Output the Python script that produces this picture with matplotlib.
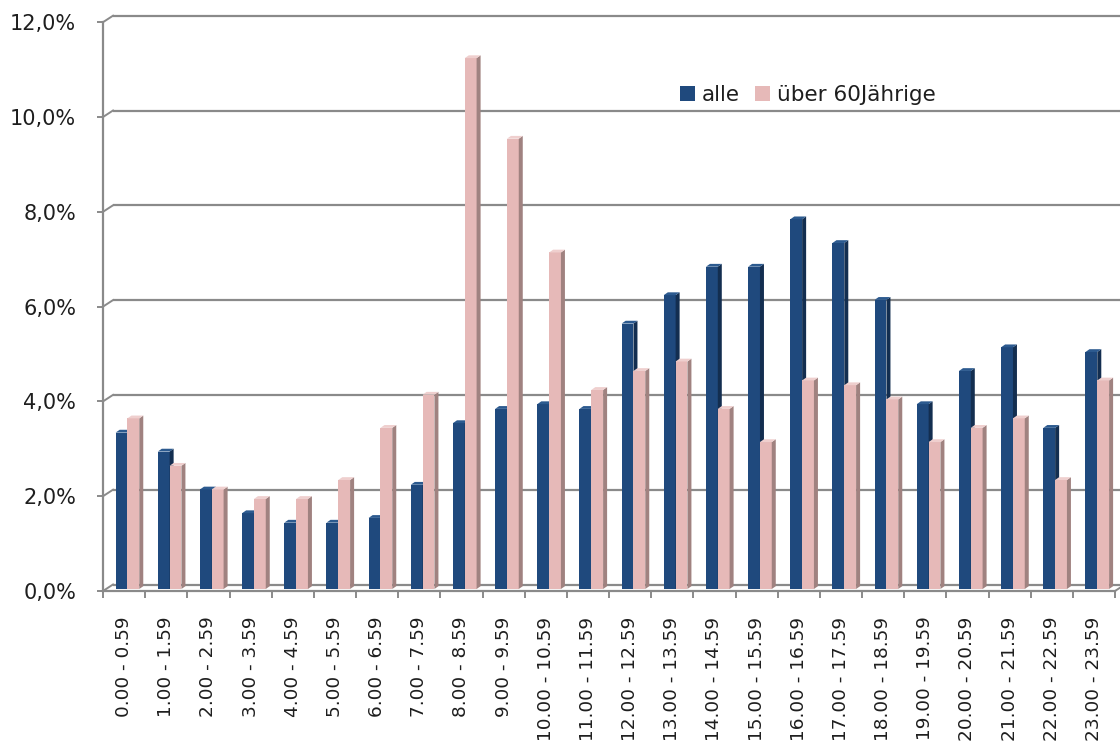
import numpy as np
import matplotlib
matplotlib.use("Agg")
import matplotlib.pyplot as plt
from matplotlib.patches import Polygon, Patch
from matplotlib.ticker import FuncFormatter

# Anteil der Fahrten je Stunde (in %)
zeit = ["0.00 - 0.59", "1.00 - 1.59", "2.00 - 2.59", "3.00 - 3.59",
        "4.00 - 4.59", "5.00 - 5.59", "6.00 - 6.59", "7.00 - 7.59",
        "8.00 - 8.59", "9.00 - 9.59", "10.00 - 10.59", "11.00 - 11.59",
        "12.00 - 12.59", "13.00 - 13.59", "14.00 - 14.59", "15.00 - 15.59",
        "16.00 - 16.59", "17.00 - 17.59", "18.00 - 18.59", "19.00 - 19.59",
        "20.00 - 20.59", "21.00 - 21.59", "22.00 - 22.59", "23.00 - 23.59"]
alle = [3.3, 2.9, 2.1, 1.6, 1.4, 1.4, 1.5, 2.2, 3.5, 3.8, 3.9, 3.8,
        5.6, 6.2, 6.8, 6.8, 7.8, 7.3, 6.1, 3.9, 4.6, 5.1, 3.4, 5.0]
ueber60 = [3.6, 2.6, 2.1, 1.9, 1.9, 2.3, 3.4, 4.1, 11.2, 9.5, 7.1, 4.2,
           4.6, 4.8, 3.8, 3.1, 4.4, 4.3, 4.0, 3.1, 3.4, 3.6, 2.3, 4.4]
y_ticks = [0, 2, 4, 6, 8, 10, 12]

GRID = "#8a8a8a"
TEXT = "#1e1e1e"

W, H = 1120, 745
fig = plt.figure(figsize=(W / 100, H / 100), dpi=100)

# plot area in pixels (front plane)
left_px, right_px = 103, 1115
bottom_px, top_px = 591, 22.2
ax = fig.add_axes([left_px / W, 1 - bottom_px / H,
                   (right_px - left_px) / W, (bottom_px - top_px) / H])
n = len(zeit)
ax.set_xlim(0, n)
ax.set_ylim(0, 12)

# one pixel in data units
px_x = n / (right_px - left_px)
px_y = 12 / (bottom_px - top_px)

# back wall offset for the pseudo-3d look
wall_dx, wall_dy = 10 * px_x, 6.5 * px_y

for g in y_ticks:
    ax.plot([wall_dx, n + wall_dx + 1], [g + wall_dy] * 2, color=GRID,
            lw=1.6, clip_on=False, zorder=1, solid_capstyle="butt")
    ax.plot([0, wall_dx], [g, g + wall_dy], color=GRID, lw=1.4,
            clip_on=False, zorder=1)
ax.plot([n, n + wall_dx], [0, wall_dy], color=GRID, lw=1.4,
        clip_on=False, zorder=1)

# bars with side and top faces
lift = 2 * px_y
side_dx, side_dy = 4 * px_x, 2.8 * px_y
bar_w = 0.28
series = [
    (alle, 0.30, "#1f497d", "#132e50", "#2c5a8f", "alle"),
    (ueber60, 0.58, "#e6b9b8", "#a08280", "#efcfce", "über 60Jährige"),
]
handles = []
for vals, off, front, side, top, name in series:
    xs = np.arange(n) + off
    ax.bar(xs, vals, width=bar_w, bottom=lift, align="edge",
           color=front, zorder=3, linewidth=0)
    for x, v in zip(xs, vals):
        x1 = x + bar_w
        yt = lift + v
        ax.add_patch(Polygon([(x1, lift), (x1 + side_dx, lift + side_dy),
                              (x1 + side_dx, yt + side_dy), (x1, yt)],
                             closed=True, facecolor=side, lw=0, zorder=3))
        ax.add_patch(Polygon([(x, yt), (x + side_dx, yt + side_dy),
                              (x1 + side_dx, yt + side_dy), (x1, yt)],
                             closed=True, facecolor=top, lw=0, zorder=3))
    handles.append(Patch(facecolor=front, label=name))

# axes
for s in ["top", "right"]:
    ax.spines[s].set_visible(False)
for s in ["left", "bottom"]:
    ax.spines[s].set_color(GRID)
    ax.spines[s].set_linewidth(1.6)

ax.set_yticks(y_ticks)
ax.yaxis.set_major_formatter(FuncFormatter(
    lambda v, p: f"{v:.1f}".replace(".", ",") + "%"))
ax.tick_params(axis="y", length=4.3, width=1.4, color=GRID, pad=15,
               labelsize=15, labelcolor=TEXT)

ax.set_xticks(range(n + 1))
ax.tick_params(axis="x", which="major", length=5, width=1.4, color=GRID,
               labelbottom=False)
ax.set_xticks(np.arange(n) + 0.5, minor=True)
ax.set_xticklabels(zeit, minor=True, rotation=90, va="top", ha="center")
ax.tick_params(axis="x", which="minor", length=0, pad=18.5,
               labelsize=13.3, labelcolor=TEXT)

leg = ax.legend(handles=handles, loc="center left", ncol=2, frameon=False,
                bbox_to_anchor=(680 / W, 1 - 95 / H),
                bbox_transform=fig.transFigure, borderaxespad=0, borderpad=0,
                fontsize=15.5, handlelength=0.7, handleheight=0.7,
                handletextpad=0.33, columnspacing=0.7)
for t in leg.get_texts():
    t.set_color(TEXT)

fig.savefig("out.png", dpi=100)
